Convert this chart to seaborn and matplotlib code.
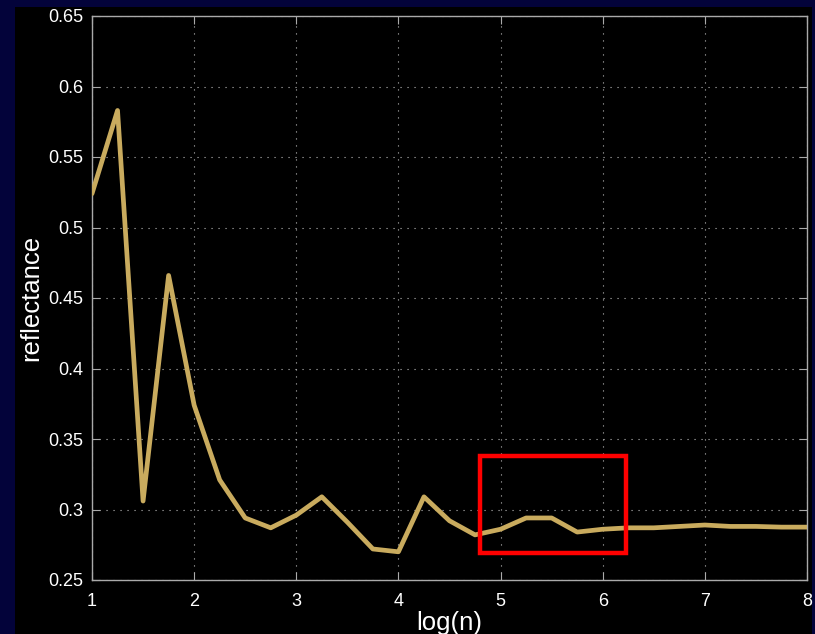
import matplotlib
matplotlib.use("Agg")
import matplotlib.pyplot as plt
import matplotlib.patches as mpatches
import pandas as pd
import seaborn as sns

# log(n) sampled every 0.25
log_n = [1.0, 1.25, 1.5, 1.75, 2.0, 2.25, 2.5, 2.75, 3.0, 3.25, 3.5, 3.75, 4.0,
         4.25, 4.5, 4.75, 5.0, 5.25, 5.5, 5.75, 6.0, 6.25, 6.5, 6.75, 7.0,
         7.25, 7.5, 7.75, 8.0]
reflectance = [0.524, 0.583, 0.306, 0.466, 0.374, 0.321, 0.294, 0.287, 0.296,
               0.309, 0.291, 0.272, 0.270, 0.309, 0.292, 0.282, 0.286, 0.294,
               0.294, 0.284, 0.286, 0.287, 0.287, 0.288, 0.289, 0.288, 0.288,
               0.2875, 0.2875]

x_ticks = [1, 2, 3, 4, 5, 6, 7, 8]
y_ticks = [0.25, 0.3, 0.35, 0.4, 0.45, 0.5, 0.55, 0.6, 0.65]
y_tick_labels = ["0.25", "0.3", "0.35", "0.4", "0.45", "0.5", "0.55", "0.6", "0.65"]

# highlighted region (x0, x1, y0, y1)
box_x = [4.80, 6.23]
box_y = [0.2694, 0.338]

df = pd.DataFrame({"log(n)": log_n, "reflectance": reflectance})

sns.set_style("dark")
plt.rcParams["font.family"] = ["Liberation Sans", "DejaVu Sans"]

fig = plt.figure(figsize=(8.15, 6.34), dpi=100)
fig.patch.set_facecolor("#03033a")
fig.patches.append(mpatches.Rectangle((15 / 815, 0), 797 / 815, 627 / 634,
                                      transform=fig.transFigure, facecolor="black",
                                      edgecolor="none", zorder=-10))

ax = fig.add_axes([92 / 815, 1 - 580 / 634, 715 / 815, 564 / 634])
ax.set_facecolor("black")

sns.lineplot(data=df, x="log(n)", y="reflectance", ax=ax, color="#c9ab5e",
             linewidth=3.4, zorder=3)

ax.add_patch(mpatches.Rectangle((box_x[0], box_y[0]), box_x[1] - box_x[0],
                                box_y[1] - box_y[0], fill=False,
                                edgecolor="#ff0000", linewidth=3.2, zorder=4))

ax.set_xlim(1, 8)
ax.set_ylim(0.25, 0.65)
ax.set_xticks(x_ticks)
ax.set_yticks(y_ticks)
ax.set_yticklabels(y_tick_labels)
ax.grid(True, color="#bbbbbb", linestyle=(0, (1, 5.3)), linewidth=0.8)

for side in ax.spines.values():
    side.set_visible(True)
    side.set_color("#aaaaaa")
    side.set_linewidth(1.0)

ax.tick_params(axis="both", direction="in", colors="#aaaaaa", labelcolor="white",
               labelsize=13, length=6, top=True, right=True, bottom=True, left=True)
ax.tick_params(axis="x", pad=9)
ax.tick_params(axis="y", pad=6)

ax.set_xlabel("log(n)", color="white", fontsize=18.5, labelpad=1)
ax.set_ylabel("reflectance", color="white", fontsize=18.5, labelpad=4)

fig.savefig("out.png", dpi=100, facecolor=fig.get_facecolor())
